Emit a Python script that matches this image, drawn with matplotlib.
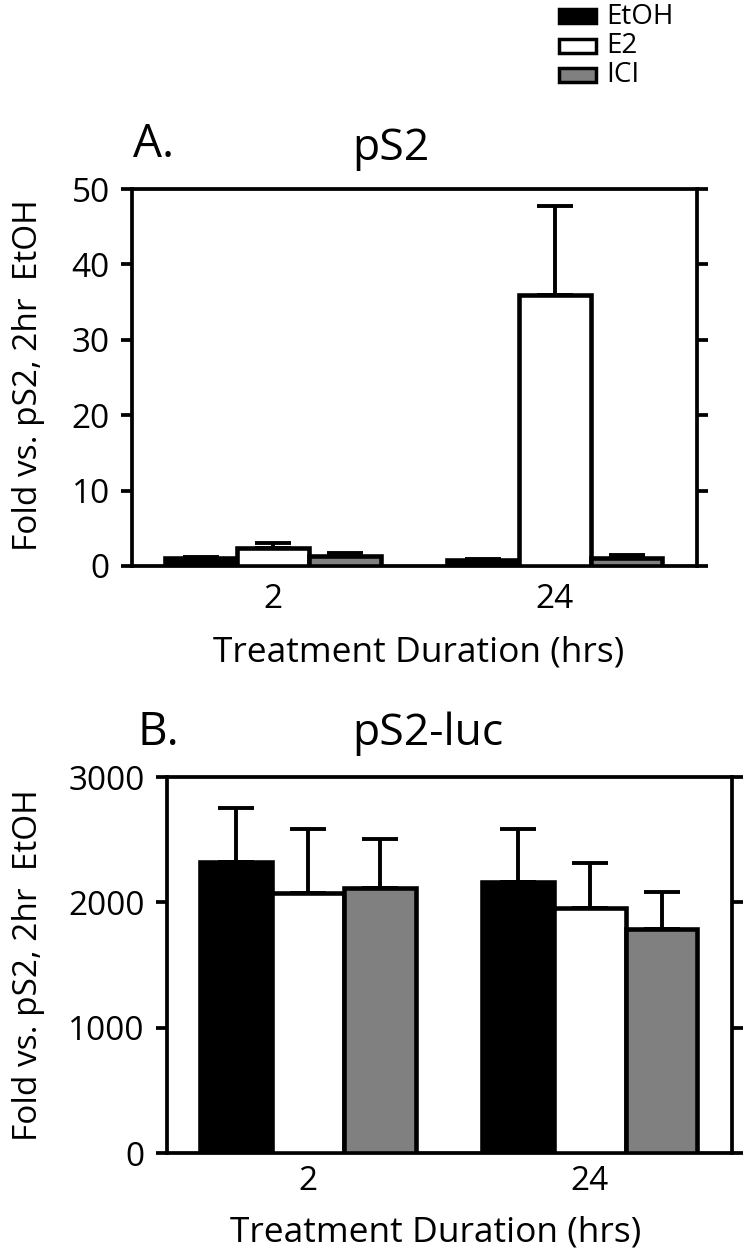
import numpy as np
from matplotlib import pyplot as plt
from matplotlib.patches import Rectangle

plt.rcParams["font.family"] = ["Open Sans", "DejaVu Sans"]

groups = ["2", "24"]
treatments = ["EtOH", "E2", "ICI"]
colors = ["black", "white", "#808080"]

# panel A: pS2 mRNA
pS2_mean = {"EtOH": [1.1, 0.8], "E2": [2.4, 36.0], "ICI": [1.3, 1.0]}
pS2_err = {"EtOH": [0.1, 0.1], "E2": [0.6, 11.7], "ICI": [0.4, 0.4]}

# panel B: pS2-luc
luc_mean = {"EtOH": [2325, 2165], "E2": [2072, 1952], "ICI": [2112, 1784]}
luc_err = {"EtOH": [424, 422], "E2": [517, 365], "ICI": [392, 296]}

W, H = 750, 1248
fig = plt.figure(figsize=(W / 100, H / 100), dpi=100)


def px(x0, y0, x1, y1):
    # pixel box (top-left origin) -> figure fraction rect
    return [x0 / W, 1 - y1 / H, (x1 - x0) / W, (y1 - y0) / H]


axA = fig.add_axes(px(132, 189, 697, 566))
axB = fig.add_axes(px(167, 777, 732, 1153))


def draw_panel(ax, means, errs, ymax, yticks, xpad, xlab_x, xlab_y):
    x = np.arange(len(groups))
    w = 0.255
    for i, t in enumerate(treatments):
        pos = x + (i - 1) * w
        ax.bar(pos, means[t], w, color=colors[i], edgecolor="black",
               linewidth=3.3, zorder=3)
        ax.errorbar(pos, means[t], yerr=[np.zeros(len(groups)), errs[t]],
                    fmt="none", ecolor="black", elinewidth=2.8, capsize=13,
                    capthick=2.8, zorder=2)
    ax.set_xlim(-0.5, 1.505)
    ax.set_ylim(0, ymax)
    ax.set_yticks(yticks)
    ax.set_xticks(x)
    ax.set_xticklabels(groups)
    for s in ax.spines.values():
        s.set_linewidth(2.7)
    ax.tick_params(axis="y", direction="out", length=8, width=2.7,
                   labelsize=24, right=True, pad=8)
    ax.tick_params(axis="x", length=0, labelsize=24, pad=xpad)
    ax.set_xlabel("Treatment Duration (hrs)", fontsize=25.5)
    ax.xaxis.label.set_va("baseline")
    ax.xaxis.set_label_coords(xlab_x, xlab_y)
    ax.set_ylabel("Fold vs. pS2, 2hr  EtOH", fontsize=24)


draw_panel(axA, pS2_mean, pS2_err, 50, [0, 10, 20, 30, 40, 50], 12, 0.508, -0.2546)
draw_panel(axB, luc_mean, luc_err, 3000, [0, 1000, 2000, 3000], 9, 0.475, -0.2367)
axA.yaxis.set_label_coords(-0.154, 0.505)
axB.yaxis.set_label_coords(-0.216, 0.5)

# panel letters and titles
fig.text(133 / W, 1 - 157 / H, "A.", fontsize=33, va="baseline")
fig.text(352 / W, 1 - 160 / H, "pS2", fontsize=32, va="baseline")
fig.text(138 / W, 1 - 745 / H, "B.", fontsize=33, va="baseline")
fig.text(352 / W, 1 - 745 / H, "pS2-luc", fontsize=32, va="baseline")

# legend
for i, t in enumerate(treatments):
    top = 8 + i * 29.5
    fig.add_artist(Rectangle((559 / W, 1 - (top + 15) / H), 37 / W, 14 / H,
                             transform=fig.transFigure, facecolor=colors[i],
                             edgecolor="black", linewidth=2.5))
    fig.text(606 / W, 1 - (top + 15.5) / H, t, fontsize=20, va="baseline")

fig.savefig("out.png", dpi=100)
